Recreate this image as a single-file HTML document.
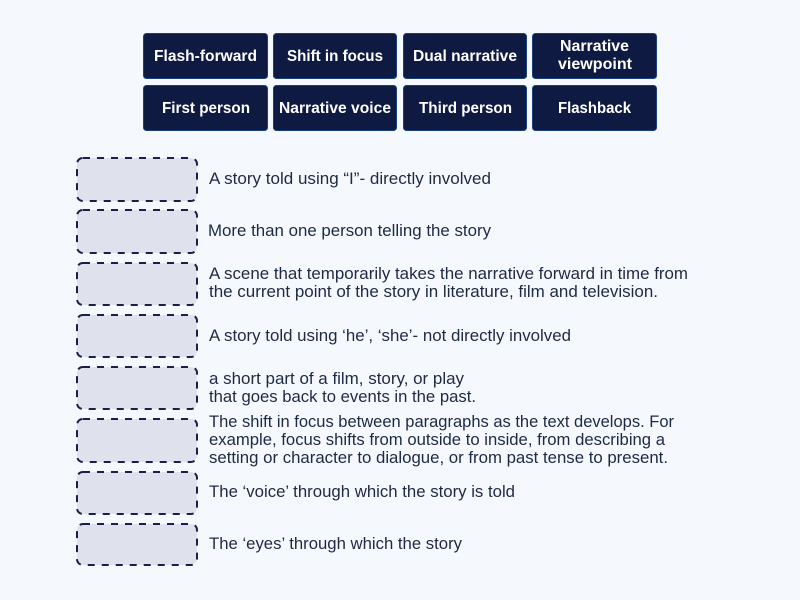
<!DOCTYPE html>
<html><head><meta charset="utf-8"><style>
html,body{margin:0;padding:0;background:#f5f9fe}
svg{display:block}
text{font-family:"Liberation Sans",sans-serif}
.b{fill:#fff;font-weight:700;font-size:16px}
.t{fill:#1d2a44;font-size:16.5px}
</style></head><body>
<svg width="800" height="600" viewBox="0 0 800 600" xmlns="http://www.w3.org/2000/svg">
<rect width="800" height="600" fill="#f5f9fe"/>
<g fill="#0f1a42" stroke="#1a3f7e" stroke-width="1">
<rect x="143.5" y="33.5" width="124" height="45" rx="3"/>
<rect x="273.5" y="33.5" width="123" height="45" rx="3"/>
<rect x="403.5" y="33.5" width="123" height="45" rx="3"/>
<rect x="532.5" y="33.5" width="124" height="45" rx="3"/>
<rect x="143.5" y="85.5" width="124" height="45" rx="3"/>
<rect x="273.5" y="85.5" width="123" height="45" rx="3"/>
<rect x="403.5" y="85.5" width="123" height="45" rx="3"/>
<rect x="532.5" y="85.5" width="124" height="45" rx="3"/>
</g>
<g class="b">
<text class="b" x="154" y="61" textLength="103" lengthAdjust="spacingAndGlyphs">Flash-forward</text>
<text class="b" x="287" y="61" textLength="96" lengthAdjust="spacingAndGlyphs">Shift in focus</text>
<text class="b" x="413" y="61" textLength="104" lengthAdjust="spacingAndGlyphs">Dual narrative</text>
<text class="b" x="560" y="51" textLength="69" lengthAdjust="spacingAndGlyphs">Narrative</text>
<text class="b" x="558" y="69" textLength="74" lengthAdjust="spacingAndGlyphs">viewpoint</text>
<text class="b" x="162" y="113" textLength="88" lengthAdjust="spacingAndGlyphs">First person</text>
<text class="b" x="279" y="113" textLength="112" lengthAdjust="spacingAndGlyphs">Narrative voice</text>
<text class="b" x="419" y="113" textLength="93" lengthAdjust="spacingAndGlyphs">Third person</text>
<text class="b" x="558" y="113" textLength="73" lengthAdjust="spacingAndGlyphs">Flashback</text>
</g>
<g fill="#dfe2ec" stroke="#1a1f4b" stroke-width="2" stroke-dasharray="7 7">
<rect x="77" y="158" width="120" height="43" rx="6"/>
<rect x="77" y="210" width="120" height="43" rx="6"/>
<rect x="77" y="263" width="120" height="42" rx="6"/>
<rect x="77" y="315" width="120" height="42" rx="6"/>
<rect x="77" y="367" width="120" height="42" rx="6"/>
<rect x="77" y="419" width="120" height="43" rx="6"/>
<rect x="77" y="472" width="120" height="42" rx="6"/>
<rect x="77" y="524" width="120" height="41" rx="6"/>
</g>
<text class="t" x="209" y="184" textLength="282" lengthAdjust="spacingAndGlyphs">A story told using “I”- directly involved</text>
<text class="t" x="208" y="236" textLength="283" lengthAdjust="spacingAndGlyphs">More than one person telling the story</text>
<text class="t" x="209" y="279" textLength="479" lengthAdjust="spacingAndGlyphs">A scene that temporarily takes the narrative forward in time from</text>
<text class="t" x="209" y="297" textLength="449" lengthAdjust="spacingAndGlyphs">the current point of the story in literature, film and television.</text>
<text class="t" x="209" y="341" textLength="362" lengthAdjust="spacingAndGlyphs">A story told using ‘he’, ‘she’- not directly involved</text>
<text class="t" x="209" y="384" textLength="255" lengthAdjust="spacingAndGlyphs">a short part of a film, story, or play</text>
<text class="t" x="209" y="402" textLength="267" lengthAdjust="spacingAndGlyphs">that goes back to events in the past.</text>
<text class="t" x="209" y="427" textLength="465" lengthAdjust="spacingAndGlyphs">The shift in focus between paragraphs as the text develops. For</text>
<text class="t" x="209" y="445" textLength="456" lengthAdjust="spacingAndGlyphs">example, focus shifts from outside to inside, from describing a</text>
<text class="t" x="209" y="463" textLength="459" lengthAdjust="spacingAndGlyphs">setting or character to dialogue, or from past tense to present.</text>
<text class="t" x="209" y="497" textLength="306" lengthAdjust="spacingAndGlyphs">The ‘voice’ through which the story is told</text>
<text class="t" x="209" y="549" textLength="253" lengthAdjust="spacingAndGlyphs">The ‘eyes’ through which the story</text>
</svg>
</body></html>
